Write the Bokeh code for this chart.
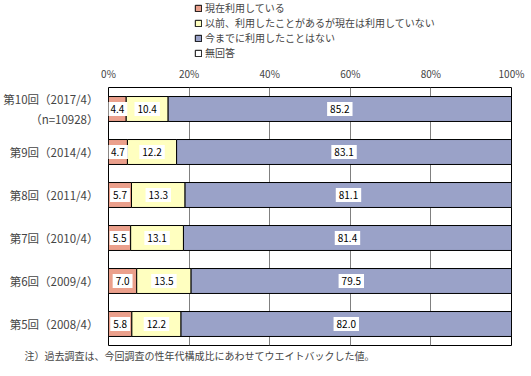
from bokeh.plotting import figure
from bokeh.layouts import column
from bokeh.models import (FactorRange, FixedTicker, ColumnDataSource, Legend,
                          LegendItem, Title, Range1d)
from bokeh.core.properties import value
from bokeh.embed import file_html
from bokeh.resources import INLINE

categories = ["第10回（2017/4）\n（n=10928）", "第9回（2014/4）", "第8回（2011/4）",
              "第7回（2010/4）", "第6回（2009/4）", "第5回（2008/4）"]
series_names = ["現在利用している", "以前、利用したことがあるが現在は利用していない",
                "今までに利用したことはない", "無回答"]
using_now = [4.4, 4.7, 5.7, 5.5, 7.0, 5.8]
used_before = [10.4, 12.2, 13.3, 13.1, 13.5, 12.2]
never_used = [85.2, 83.1, 81.1, 81.4, 79.5, 82.0]
no_answer = [0.0, 0.0, 0.0, 0.0, 0.0, 0.0]
x_ticks = [0, 20, 40, 60, 80, 100]
note = "注）過去調査は、今回調査の性年代構成比にあわせてウエイトバックした値。"

colors = ["#EBA08C", "#FFFFC0", "#9AA2C8", "#FFFFFF"]
FONT = "Noto Sans CJK JP"
TOP_H = 62

# ---- legend strip -------------------------------------------------------
top = figure(width=531, height=TOP_H, toolbar_location=None, output_backend="svg",
             x_range=Range1d(0, 1), y_range=Range1d(0, 1),
             x_axis_location=None, y_axis_location=None,
             min_border=0, min_border_left=107, min_border_right=20,
             outline_line_color=None)
top.xgrid.grid_line_color = None
top.ygrid.grid_line_color = None
items = []
for name, col in zip(series_names, colors):
    # placeholder outside the visible range; only its legend swatch shows
    r = top.rect(x=[-5], y=[-5], width=1, height=1, fill_color=col,
                 line_color="black", line_width=1)
    items.append(LegendItem(label=name, renderers=[r]))
legend = Legend(items=items, location=(86, 2), glyph_width=8, glyph_height=8,
                label_standoff=3, spacing=0, padding=0, margin=0,
                border_line_color=None, background_fill_alpha=0,
                label_text_font=FONT, label_text_font_size="10px",
                label_height=15)
top.add_layout(legend)

# ---- main chart ---------------------------------------------------------
src = ColumnDataSource(dict(cat=categories, a=using_now, b=used_before,
                            c=never_used, d=no_answer))

p = figure(width=531, height=376 - TOP_H, toolbar_location=None, output_backend="svg",
           y_range=FactorRange(factors=categories[::-1]),
           x_range=Range1d(0, 100), x_axis_location="above",
           min_border_left=107, min_border_right=20, min_border_top=85 - TOP_H,
           min_border_bottom=31)

p.hbar_stack(["a", "b", "c", "d"], y="cat", height=0.58,
             fill_color=colors, line_color="black", line_width=1, source=src)

lab_x, lab_y, lab_t = [], [], []
for i, cat in enumerate(categories):
    start = 0.0
    for vals in (using_now, used_before, never_used):
        v = vals[i]
        lab_x.append(start + v / 2)
        lab_y.append(cat)
        lab_t.append(f"{v:.1f}")
        start += v
lsrc = ColumnDataSource(dict(x=lab_x, y=lab_y, t=lab_t))
p.text(x="x", y="y", text="t", source=lsrc, text_align="center",
       text_baseline="middle", text_font=value(FONT), text_font_size="10px",
       text_color="black", background_fill_color="white", padding=3)

p.xaxis.ticker = FixedTicker(ticks=x_ticks)
p.xaxis.major_label_overrides = {t: f"{t}%" for t in x_ticks}
p.xaxis.major_label_text_font = FONT
p.xaxis.major_label_text_font_size = "10px"
p.xaxis.major_label_standoff = 7
p.xaxis.major_tick_in = 0
p.xaxis.major_tick_out = 0
p.xaxis.minor_tick_line_color = None
p.xaxis.axis_line_color = None

p.yaxis.major_label_text_font = FONT
p.yaxis.major_label_text_font_size = "11.5px"
p.yaxis.major_label_standoff = 10
p.yaxis.major_tick_in = 0
p.yaxis.major_tick_out = 0
p.yaxis.axis_line_color = None

p.xgrid.grid_line_color = "#808080"
p.ygrid.grid_line_color = None
p.outline_line_color = "black"
p.outline_line_width = 1

p.add_layout(Title(text=note, align="left", offset=-84, text_font=FONT,
                   text_font_size="10px", text_font_style="normal",
                   standoff=0), "below")

open("out.html", "w").write(file_html(column(top, p, spacing=0), INLINE))
